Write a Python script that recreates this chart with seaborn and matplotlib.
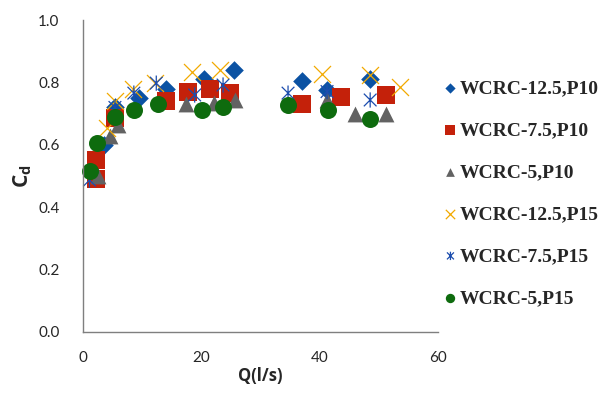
import numpy as np
import pandas as pd
import matplotlib
matplotlib.use("Agg")
import matplotlib.pyplot as plt
from matplotlib.path import Path
import seaborn as sns

# Valores (Q en l/s, Cd)
q_125_p10 = [1.7, 3.6, 5.4, 9.5, 14.0, 20.5, 25.5, 37.0, 41.3, 48.6]
cd_125_p10 = [0.51, 0.60, 0.72, 0.75, 0.78, 0.81, 0.84, 0.805, 0.775, 0.81]

q_75_p10 = [2.15, 2.15, 5.4, 14.0, 17.7, 21.5, 24.9, 37.0, 43.6, 51.3]
cd_75_p10 = [0.49, 0.55, 0.685, 0.74, 0.77, 0.78, 0.765, 0.73, 0.755, 0.76]

q_5_p10 = [2.5, 4.5, 5.9, 17.5, 22.2, 25.7, 41.3, 46.0, 51.3]
cd_5_p10 = [0.50, 0.63, 0.665, 0.73, 0.735, 0.745, 0.745, 0.70, 0.70]

q_125_p15 = [4.0, 5.4, 8.5, 12.2, 18.4, 23.2, 40.4, 48.6, 53.7]
cd_125_p15 = [0.655, 0.74, 0.78, 0.80, 0.835, 0.84, 0.828, 0.824, 0.785]

q_75_p15 = [1.1, 5.4, 8.6, 12.4, 18.9, 23.7, 34.7, 41.3, 48.6]
cd_75_p15 = [0.487, 0.72, 0.766, 0.798, 0.76, 0.792, 0.766, 0.771, 0.744]

q_5_p15 = [1.25, 2.3, 5.4, 8.6, 12.7, 20.1, 23.7, 34.7, 41.4, 48.6]
cd_5_p15 = [0.517, 0.607, 0.69, 0.712, 0.731, 0.712, 0.72, 0.728, 0.712, 0.683]

etiquetas = ["WCRC-12.5,P10", "WCRC-7.5,P10", "WCRC-5,P10",
             "WCRC-12.5,P15", "WCRC-7.5,P15", "WCRC-5,P15"]

# Marcador tipo "estrella" de Excel: X con linea vertical
estrella = Path([(-1, -1), (1, 1), (-1, 1), (1, -1), (0, -1.2), (0, 1.2)],
                [Path.MOVETO, Path.LINETO, Path.MOVETO, Path.LINETO,
                 Path.MOVETO, Path.LINETO])

series = [
    (q_125_p10, cd_125_p10, dict(marker="D", s=90, color="#0B52A3", linewidth=0)),
    (q_75_p10, cd_75_p10, dict(marker="s", s=150, color="#C4210A", linewidth=0)),
    (q_5_p10, cd_5_p10, dict(marker="^", s=130, color="#626262", linewidth=0)),
    (q_125_p15, cd_125_p15, dict(marker="x", s=150, color="#F2A900", linewidth=0.9)),
    (q_75_p15, cd_75_p15, dict(marker=estrella, s=120, facecolor="none",
                               edgecolor="#1C4DAE", linewidth=0.9)),
    (q_5_p15, cd_5_p15, dict(marker="o", s=150, color="#0E6B0E", linewidth=0)),
]

sns.set_style("white")
fig = plt.figure(figsize=(6.06, 3.96), dpi=100)
ax = fig.add_axes([0.137, 0.162, 0.585, 0.787])

for (q, cd, kw), lab in zip(series, etiquetas):
    df = pd.DataFrame({"Q": q, "Cd": cd})
    sns.scatterplot(data=df, x="Q", y="Cd", ax=ax, label=lab, clip_on=False, **kw)

ax.set_xlim(0, 60)
ax.set_ylim(0, 1.0)
ax.set_xticks([0, 20, 40, 60])
ax.set_yticks(np.arange(0, 1.01, 0.2))
ax.set_yticklabels([f"{v:.1f}" for v in np.arange(0, 1.01, 0.2)])

for lado in ["top", "right"]:
    ax.spines[lado].set_visible(False)
for lado in ["left", "bottom"]:
    ax.spines[lado].set_color("#7f7f7f")
    ax.spines[lado].set_linewidth(1.0)

ax.tick_params(axis="both", direction="out", length=5, color="#7f7f7f",
               labelsize=11, width=1)
ax.tick_params(axis="y", pad=12)
ax.tick_params(axis="x", pad=9)
for t in ax.get_xticklabels() + ax.get_yticklabels():
    t.set_family("Lato")

ax.set_xlabel("Q(l/s)", fontsize=12, fontweight="bold", family="Open Sans", labelpad=1)
ax.set_ylabel(r"C$_\mathregular{d}$", fontsize=15, fontweight="bold", family="Open Sans",
              labelpad=3)

ax.legend(loc="upper left", bbox_to_anchor=(431 / 606, 1 - 70 / 396),
          bbox_transform=fig.transFigure, frameon=False, borderpad=0,
          handletextpad=0.0, handlelength=1.0, labelspacing=1.25,
          markerscale=0.55, prop={"family": "Liberation Serif", "weight": "bold",
                                  "size": 14})

fig.savefig("out.png", dpi=100)
plt.close(fig)
